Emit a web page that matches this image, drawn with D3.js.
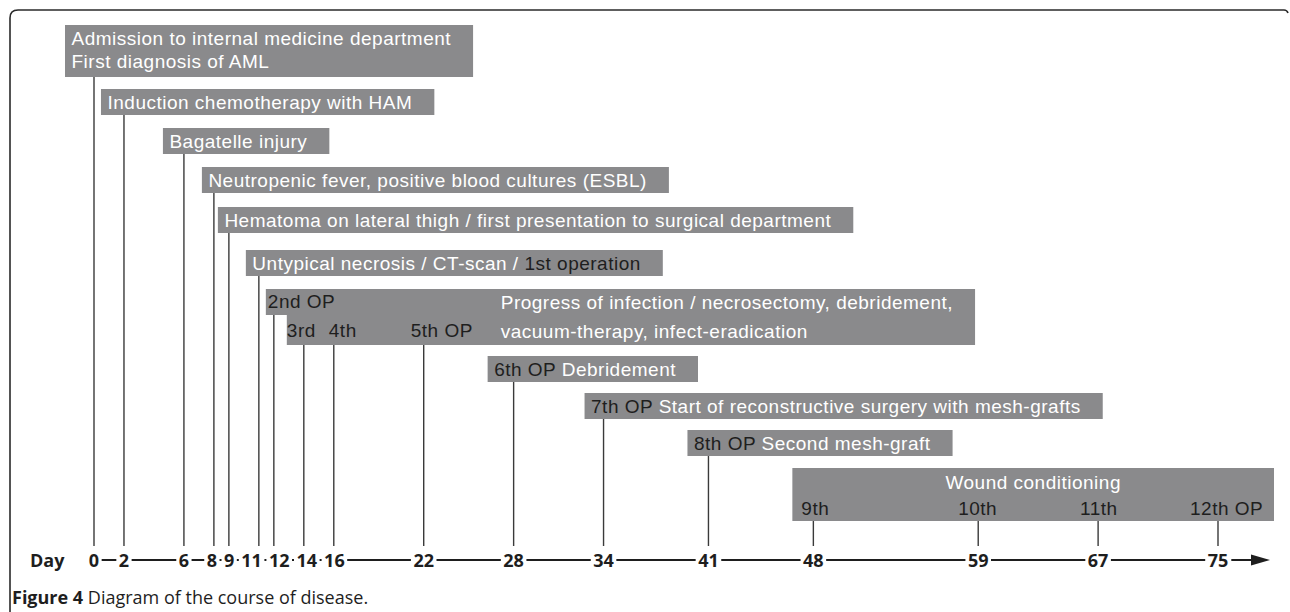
<!DOCTYPE html>
<html><head><meta charset="utf-8">
<script src="https://cdn.jsdelivr.net/npm/d3@7"></script>
<style>body{margin:0;background:#fff}svg{display:block}</style>
</head><body>
<svg id="c" width="1290" height="612"></svg>
<script>
// ---------------- data ----------------
const tickDays = [0, 2, 6, 8, 9, 11, 12, 14, 16, 22, 28, 34, 41, 48, 59, 67, 75];
const phaseDays = [0, 2, 6, 8, 9, 11, 28, 34, 41];
const phaseText = [
  "Admission to internal medicine department\nFirst diagnosis of AML",
  "Induction chemotherapy with HAM",
  "Bagatelle injury",
  "Neutropenic fever, positive blood cultures (ESBL)",
  "Hematoma on lateral thigh / first presentation to surgical department",
  "Untypical necrosis / CT-scan / ",
  "Debridement",
  "Start of reconstructive surgery with mesh-grafts",
  "Second mesh-graft"
];
const phaseOp = ["", "", "", "", "", "1st operation", "6th OP", "7th OP", "8th OP"];
const phaseOpPlace = ["", "", "", "", "", "after", "before", "before", "before"];
const clusterDays = [12, 14, 16, 22];
const clusterLabels = ["2nd OP", "3rd", "4th", "5th OP"];
const clusterText = ["Progress of infection / necrosectomy, debridement,", "vacuum-therapy, infect-eradication"];
const woundDays = [48, 59, 67, 75];
const woundLabels = ["9th", "10th", "11th", "12th OP"];
const woundTitle = "Wound conditioning";
const axisTitle = "Day";
const captionBold = "Figure 4";
const captionText = " Diagram of the course of disease.";

// ---------------- layout ----------------
const GREY = "#8a8a8c", DARK = "#1e1e1e", STEM = "#3a3a3a";
const FONT = "'Liberation Sans', Arial, Helvetica, sans-serif";
const FS = 19, LS = 0.5;
const AXFONT = "'Open Sans', Lato, sans-serif";
const phaseTop = [25, 89, 128, 167, 207, 250, 356, 393, 430];
const phaseLeftOff = [29, 23, 21, 12, 11, 13, 26, 19, 21];
const clusterTop = 289, clusterLeftOff = [8, 17];
const clusterLabelDx = [-6, -17, -5, -13];
const woundTop = 468, woundLeftOff = 21, woundRightOff = 56;
const woundLabelDx = [-12, -20, -18, -28];
const axisY = 560, stemBottom = 546;
const rowH = 26;

const svg = d3.select("#c");
const x = d3.scaleLinear().domain([0, 75]).range([94, 1218]);

// frame
svg.append("path")
  .attr("d", "M10,612 V18 Q10,10 18,10 H1284 Q1287,10 1288,13")
  .attr("fill", "none").attr("stroke", "#2a2a2a").attr("stroke-width", 1.6);

const gStems = svg.append("g");
const gBoxes = svg.append("g");

function boxText(sel) {
  return sel.attr("font-family", FONT).attr("font-size", FS).attr("letter-spacing", LS);
}
function textWidth(str) {
  const t = boxText(svg.append("text")).text(str);
  const w = t.node().getComputedTextLength();
  t.remove();
  return w;
}
function axText(sel, size) {
  return sel.attr("font-family", AXFONT).attr("font-weight", 700).attr("font-size", size).attr("fill", DARK);
}

// phase boxes
phaseDays.forEach((d, i) => {
  const lines = phaseText[i].split("\n");
  const top = phaseTop[i];
  const h = rowH * lines.length;
  const left = x(d) - phaseLeftOff[i];
  const g = gBoxes.append("g");
  const rect = g.append("rect").attr("x", left).attr("y", top).attr("height", h).attr("fill", GREY);
  let maxW = 0;
  lines.forEach((ln, j) => {
    const t = boxText(g.append("text")).attr("x", left + 6.5).attr("y", top + 20 + j * 23).attr("fill", "#fff");
    if (phaseOp[i] && phaseOpPlace[i] === "before") t.append("tspan").attr("fill", DARK).text(phaseOp[i] + " ");
    t.append("tspan").text(ln);
    if (phaseOp[i] && phaseOpPlace[i] === "after") t.append("tspan").attr("fill", DARK).text(phaseOp[i]);
    maxW = Math.max(maxW, t.node().getComputedTextLength());
  });
  rect.attr("width", maxW + 6.5 + 22);
  gStems.append("line").attr("x1", x(d)).attr("x2", x(d)).attr("y1", top + h).attr("y2", stemBottom)
    .attr("stroke", STEM).attr("stroke-width", 1.4);
});

// cluster box (2nd - 5th OP)
{
  const g = gBoxes.append("g");
  const progX = x(clusterDays[3]) + 77;
  const w = Math.max(...clusterText.map(s => textWidth(s)));
  const right = progX + w + 22;
  const upLeft = x(clusterDays[0]) - clusterLeftOff[0];
  const loLeft = x(clusterDays[1]) - clusterLeftOff[1];
  g.append("path").attr("fill", GREY)
    .attr("d", `M${upLeft},${clusterTop} H${right} V${clusterTop + 56} H${loLeft} V${clusterTop + rowH} H${upLeft} Z`);
  clusterDays.forEach((d, i) => {
    const yy = i === 0 ? clusterTop + 19 : clusterTop + 48;
    boxText(g.append("text")).attr("x", x(d) + clusterLabelDx[i]).attr("y", yy)
      .attr("fill", DARK).text(clusterLabels[i]);
    gStems.append("line").attr("x1", x(d)).attr("x2", x(d))
      .attr("y1", i === 0 ? clusterTop + rowH : clusterTop + 56).attr("y2", stemBottom)
      .attr("stroke", STEM).attr("stroke-width", 1.4);
  });
  clusterText.forEach((s, j) => {
    boxText(g.append("text")).attr("x", progX).attr("y", clusterTop + 20 + j * 29)
      .attr("fill", "#fff").text(s);
  });
}

// wound conditioning box
{
  const g = gBoxes.append("g");
  const left = x(woundDays[0]) - woundLeftOff, right = x(woundDays[3]) + woundRightOff;
  g.append("rect").attr("x", left).attr("y", woundTop).attr("width", right - left).attr("height", 53).attr("fill", GREY);
  boxText(g.append("text")).attr("x", (left + right) / 2).attr("y", woundTop + 21).attr("text-anchor", "middle")
    .attr("fill", "#fff").text(woundTitle);
  woundDays.forEach((d, i) => {
    boxText(g.append("text")).attr("x", x(d) + woundLabelDx[i]).attr("y", woundTop + 47)
      .attr("fill", DARK).text(woundLabels[i]);
    gStems.append("line").attr("x1", x(d)).attr("x2", x(d)).attr("y1", woundTop + 53).attr("y2", stemBottom)
      .attr("stroke", STEM).attr("stroke-width", 1.4);
  });
}

// axis
{
  const g = svg.append("g");
  axText(g.append("text"), 18).attr("x", 30).attr("y", axisY + 6.5).text(axisTitle);
  const labs = tickDays.map(d => {
    const t = axText(svg.append("text"), 18).text(String(d));
    const w = t.node().getComputedTextLength();
    t.remove();
    return { d, c: x(d), w };
  });
  const gap = 7;
  for (let it = 0; it < 200; it++) {
    for (let i = 1; i < labs.length; i++) {
      const a = labs[i - 1], b = labs[i];
      const ov = (a.c + a.w / 2 + gap) - (b.c - b.w / 2);
      if (ov > 0) { a.c -= ov / 2; b.c += ov / 2; }
    }
  }
  labs.forEach(l => {
    axText(g.append("text"), 18).attr("x", l.c).attr("y", axisY + 6.5).attr("text-anchor", "middle").text(l.d);
  });
  for (let i = 1; i < labs.length; i++) {
    const a = labs[i - 1], b = labs[i];
    g.append("line").attr("x1", a.c + a.w / 2 + 2.5).attr("x2", b.c - b.w / 2 - 2.5)
      .attr("y1", axisY).attr("y2", axisY).attr("stroke", DARK).attr("stroke-width", 2);
  }
  const last = labs[labs.length - 1];
  g.append("line").attr("x1", last.c + last.w / 2 + 3).attr("x2", 1256).attr("y1", axisY).attr("y2", axisY)
    .attr("stroke", DARK).attr("stroke-width", 2);
  g.append("path").attr("d", `M1251,${axisY - 5.5} L1270,${axisY} L1251,${axisY + 5.5} Z`).attr("fill", DARK);
}

// caption
svg.append("text").attr("x", 12).attr("y", 604).attr("font-family", AXFONT).attr("font-size", 18).attr("fill", DARK)
  .call(t => { t.append("tspan").attr("font-weight", 700).text(captionBold); t.append("tspan").text(captionText); });
</script>
</body></html>
